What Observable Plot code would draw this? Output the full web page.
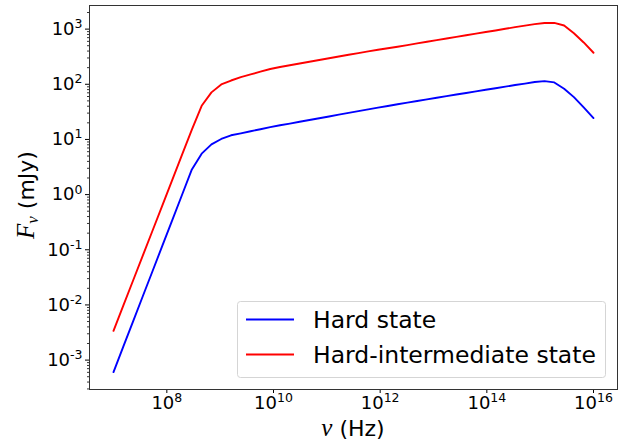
<!DOCTYPE html>
<html><head><meta charset="utf-8">
<script src="https://cdn.jsdelivr.net/npm/d3@7"></script>
<script src="https://cdn.jsdelivr.net/npm/@observablehq/plot@0.6"></script>
<style>
html,body{margin:0;padding:0;background:#fff;}
#chart{width:624px;height:444px;}
</style></head><body><div id="chart"></div>
<script>
// Frequencies (Hz)
const nu = [1.000e7,1.526e7,2.330e7,3.556e7,5.429e7,8.286e7,1.265e8,1.931e8,2.947e8,4.498e8,
  6.866e8,1.048e9,1.600e9,2.442e9,3.728e9,5.690e9,8.685e9,1.326e10,2.024e10,3.089e10,
  4.715e10,7.197e10,1.099e11,1.677e11,2.560e11,3.907e11,5.964e11,9.103e11,1.389e12,2.121e12,
  3.237e12,4.942e12,7.543e12,1.151e13,1.758e13,2.683e13,4.095e13,6.251e13,9.541e13,1.456e14,
  2.223e14,3.393e14,5.179e14,7.906e14,1.207e15,1.842e15,2.812e15,4.292e15,6.551e15,1.000e16];
// Flux density (mJy)
const hardState = [6.07e-4,1.75e-3,5.03e-3,1.45e-2,4.17e-2,0.120,0.345,0.994,2.86,5.52,
  8.15,10.2,11.9,12.9,14.1,15.3,16.7,18.1,19.4,20.9,
  22.5,24.2,26.1,28.1,30.3,32.6,35.1,37.7,40.4,43.4,
  46.5,49.8,53.2,57.0,61.0,65.2,69.5,74.3,79.4,84.7,
  90.6,96.8,103,110,114,108,83.2,58.5,38.0,24.4];
const hardIntermediate = [3.39e-3,9.68e-3,2.77e-2,7.92e-2,0.226,0.647,1.85,5.30,15.1,40.7,
  71.3,99.3,117,135,151,169,189,206,221,238,
  256,275,296,319,343,367,394,422,450,480,
  512,550,589,631,676,724,774,828,885,946,
  1014,1084,1159,1230,1294,1294,1164,843,573,373];
const seriesNames = ["Hard state", "Hard-intermediate state"];
const seriesColors = ["#0000ff", "#ff0000"];
const xTicks = [1e8, 1e10, 1e12, 1e14, 1e16];
const xTickLabels = ["10^8", "10^10", "10^12", "10^14", "10^16"];
const yTicks = [1e-3, 1e-2, 1e-1, 1e0, 1e1, 1e2, 1e3];
const yTickLabels = ["10^-3", "10^-2", "10^-1", "10^0", "10^1", "10^2", "10^3"];
const xLabel = {sym: "ν", rest: " (Hz)"};
const yLabel = {sym: "F", sub: "ν", rest: " (mJy)"};

const yDomain = [10 ** -3.533, 10 ** 3.428];
const xDomain = [10 ** 6.55, 10 ** 16.45];
const yMinor = [];
for (let k = -4; k <= 3; k++) for (let m = 2; m <= 9; m++) {
  const v = m * 10 ** k;
  if (v >= yDomain[0] && v <= yDomain[1]) yMinor.push(v);
}

const rows = [];
[hardState, hardIntermediate].forEach((arr, s) => arr.forEach((f, i) => rows.push({nu: nu[i], flux: f, series: seriesNames[s]})));

const fmt = (ticks, labels) => d => labels[ticks.findIndex(t => Math.abs(Math.log10(t) - Math.log10(d)) < 1e-6)];

const svg = Plot.plot({
  width: 624, height: 444,
  marginLeft: 89, marginRight: 7, marginTop: 5, marginBottom: 55,
  style: {fontFamily: "DejaVu Sans", fontSize: "18px", color: "#000", background: "#fff"},
  x: {type: "log", domain: xDomain},
  y: {type: "log", domain: yDomain},
  color: {domain: seriesNames, range: seriesColors},
  marks: [
    Plot.line(rows, {x: "nu", y: "flux", z: "series", stroke: "series", strokeWidth: 1.9}),
    Plot.axisY(yMinor, {tickSize: 2, tickFormat: () => "", label: null, strokeWidth: 0.8}),
    Plot.axisY(yTicks, {tickSize: 4, tickPadding: 3, tickFormat: fmt(yTicks, yTickLabels), label: null, strokeWidth: 1}),
    Plot.axisX(xTicks, {tickSize: 4, tickPadding: 3, tickFormat: fmt(xTicks, xTickLabels), label: null, strokeWidth: 1}),
    Plot.frame({stroke: "#333", strokeWidth: 1})
  ]
});
document.getElementById("chart").appendChild(svg);

// superscripts in tick labels
const root = d3.select(svg);
root.selectAll('g[aria-label="x-axis tick label"] text, g[aria-label="y-axis tick label"] text').each(function() {
  const t = this.textContent;
  const m = t.match(/^10\^(.+)$/);
  if (!m) return;
  const el = d3.select(this);
  el.text("10");
  el.append("tspan").attr("dy", "-6.8").attr("font-size", "12.5px").text(m[1]);
});

// axis labels
const xl = root.append("text").attr("x", (89 + 617) / 2).attr("y", 436).attr("text-anchor", "middle")
  .attr("font-family", "DejaVu Sans").attr("font-size", 22).attr("fill", "#000");
xl.append("tspan").attr("font-family", "Liberation Serif").attr("font-style", "italic").attr("font-size", 25).text(xLabel.sym);
xl.append("tspan").text(xLabel.rest);

const yl = root.append("text").attr("transform", "translate(34,195) rotate(-90)").attr("text-anchor", "middle")
  .attr("font-family", "DejaVu Sans").attr("font-size", 22).attr("fill", "#000");
yl.append("tspan").attr("font-family", "Liberation Serif").attr("font-style", "italic").attr("font-size", 25).text(yLabel.sym);
yl.append("tspan").attr("font-family", "Liberation Serif").attr("font-style", "italic").attr("font-size", 17).attr("dy", 4).text(yLabel.sub);
yl.append("tspan").attr("dy", -4).text(yLabel.rest);

// legend
const lg = root.append("g").attr("text-anchor", "start");
lg.append("rect").attr("x", 237.5).attr("y", 301.5).attr("width", 368).attr("height", 76).attr("rx", 3)
  .attr("fill", "#fff").attr("fill-opacity", 0.8).attr("stroke", "#d5d5d5");
seriesNames.forEach((name, i) => {
  const yy = 319.5 + i * 35;
  lg.append("line").attr("x1", 246).attr("x2", 294).attr("y1", yy).attr("y2", yy)
    .attr("stroke", seriesColors[i]).attr("stroke-width", 1.9);
  lg.append("text").attr("x", 313).attr("y", yy + 8.5).attr("text-anchor", "start").attr("font-family", "DejaVu Sans").attr("font-size", 23.5)
    .attr("fill", "#000").text(name);
});
</script></body></html>
